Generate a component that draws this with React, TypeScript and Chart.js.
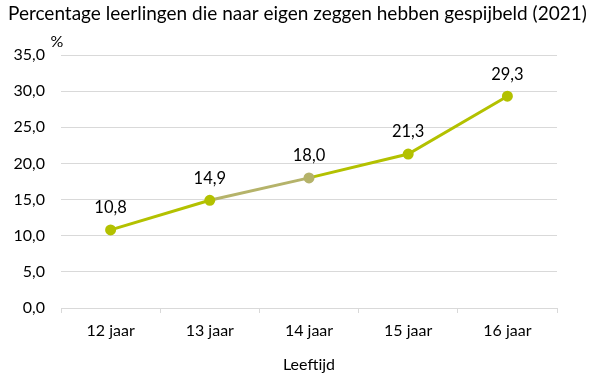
import React, { useEffect, useRef } from "react";
import { Chart, registerables } from "chart.js";

Chart.register(...registerables);

const TITLE = "Percentage leerlingen die naar eigen zeggen hebben gespijbeld (2021)";
const categories = ["12 jaar", "13 jaar", "14 jaar", "15 jaar", "16 jaar"];
const values = [10.8, 14.9, 18.0, 21.3, 29.3];
const yTicks = [0, 5, 10, 15, 20, 25, 30, 35];
const X_TITLE = "Leeftijd";
const Y_UNIT = "%";

const GREEN = "#b3c100";
const KHAKI = "#b5b36a";
const FONT = "Lato, 'Open Sans', sans-serif";

const fmt = (v: number) => v.toFixed(1).replace(".", ",");

export default function App() {
  const ref = useRef<HTMLCanvasElement | null>(null);
  useEffect(() => {
    if (!ref.current) return;
    const overlay = {
      id: "overlay",
      afterDraw(chart: any) {
        const ctx = chart.ctx;
        const area = chart.chartArea;
        ctx.save();
        ctx.fillStyle = "#000";
        // title, sized to span the same width as the reference
        let size = 17;
        ctx.font = `${size}px ${FONT}`;
        const w = ctx.measureText(TITLE).width;
        size = Math.min(19, size * (585 / w));
        ctx.font = `${size}px ${FONT}`;
        ctx.textAlign = "left";
        ctx.textBaseline = "middle";
        ctx.fillText(TITLE, 8, 14);
        // unit
        ctx.font = `16px ${FONT}`;
        ctx.textAlign = "center";
        ctx.fillText(Y_UNIT, 57, 42);
        // x title
        ctx.fillText(X_TITLE, (area.left + area.right) / 2, 365);
        // data labels
        ctx.font = `16.5px ${FONT}`;
        const meta = chart.getDatasetMeta(0);
        meta.data.forEach((pt: any, i: number) => {
          ctx.fillText(fmt(values[i]), pt.x, pt.y - 22);
        });
        ctx.restore();
      },
    };
    const chart = new Chart(ref.current, {
      type: "line",
      data: {
        labels: categories,
        datasets: [
          {
            data: values,
            borderColor: GREEN,
            borderWidth: 3,
            pointRadius: 4,
            pointHoverRadius: 4,
            pointBackgroundColor: values.map((_, i) => (i === 2 ? KHAKI : GREEN)),
            pointBorderColor: values.map((_, i) => (i === 2 ? KHAKI : GREEN)),
            segment: {
              borderColor: (c: any) => (c.p0DataIndex === 1 ? KHAKI : GREEN),
            },
            tension: 0,
          },
        ],
      },
      options: {
        animation: false,
        responsive: false,
        maintainAspectRatio: false,
        layout: { padding: { left: 0, right: 43, top: 55, bottom: 0 } },
        plugins: {
          legend: { display: false },
          tooltip: { enabled: false },
          title: { display: false },
        },
        scales: {
          x: {
            offset: true,
            grid: {
              offset: true,
              drawOnChartArea: false,
              drawTicks: true,
              tickLength: 5,
              color: "#d9d9d9",
            },
            border: { color: "#d9d9d9", width: 1 },
            ticks: { color: "#000", font: { family: FONT, size: 16 }, padding: 8 },
            afterFit: (s: any) => {
              s.height = 72;
            },
          },
          y: {
            min: 0,
            max: 35,
            afterBuildTicks: (s: any) => {
              s.ticks = yTicks.map((v) => ({ value: v }));
            },
            grid: { color: "#d9d9d9", drawTicks: false, lineWidth: 1 },
            border: { display: false },
            ticks: {
              color: "#000",
              font: { family: FONT, size: 16 },
              padding: 16,
              callback: (v: any) => fmt(Number(v)),
            },
            afterFit: (s: any) => {
              s.width = 61;
            },
          },
        },
      },
      plugins: [overlay],
    });
    return () => chart.destroy();
  }, []);
  return (
    <div style={{ position: "fixed", left: 0, top: 0, width: 600, height: 380, background: "#fff" }}>
      <canvas ref={ref} width={600} height={380} style={{ width: 600, height: 380 }} />
    </div>
  );
}
